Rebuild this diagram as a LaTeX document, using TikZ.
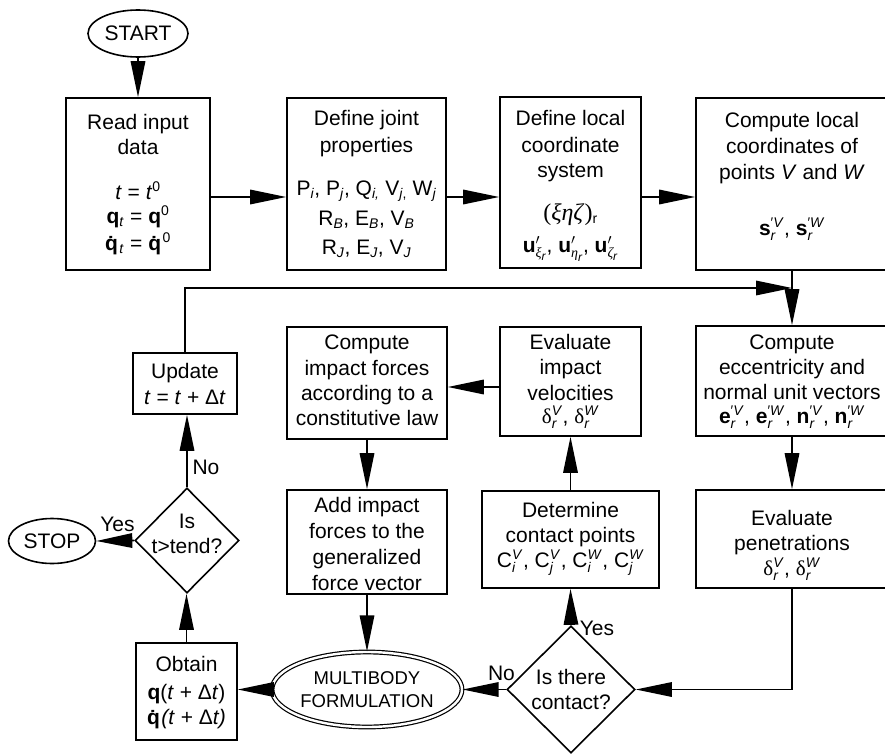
\documentclass[tikz,border=0pt]{standalone}
\usepackage{fontspec}
\setmainfont{Liberation Sans}
\newfontfamily\grk{Liberation Serif}
\usetikzlibrary{shapes.geometric,arrows.meta,calc}
\newcommand{\fs}{\fontsize{21}{25}\selectfont}
\newcommand{\fsm}{\fontsize{18.5}{23}\selectfont}
\newcommand{\scr}{\fontsize{14}{14}\selectfont}
\newcommand{\sbs}[1]{\ensuremath{_{\mbox{\scr #1}}}}
\newcommand{\sps}[1]{\ensuremath{^{\mbox{\scr #1}}}}
\newcommand{\supsub}[2]{\ensuremath{^{\mbox{\scr #1}}_{\mbox{\scr #2}}}}
\newcommand{\qd}{\textbf{q^^^^0307}}
\newcommand{\uv}[1]{\textbf{u}\ensuremath{^{\prime}_{\mbox{\scr\grk\itshape #1}_{\mbox{\fontsize{12}{12}\selectfont\itshape r}}}}}
\tikzset{
  box/.style={draw, line width=1.6pt, rectangle, inner sep=0pt},
  ell/.style={draw, line width=1.6pt, ellipse, inner sep=0pt, font=\fs},
  dia/.style={draw, line width=1.6pt, diamond, inner sep=0pt},
  tl/.style={inner sep=0pt, text height=15pt, text depth=0pt, font=\fs},
  arr/.style={line width=1.6pt, -{Triangle[length=36pt,width=14.5pt]}}
}
\begin{document}
\begin{tikzpicture}[x=1pt,y=-1pt]
\useasboundingbox (0,0) rectangle (885,754);
% shapes
\node[ell, minimum width=100pt, minimum height=47pt] (start) at (138,33.5) {START};
\node[ell, minimum width=87pt, minimum height=45pt] (stop) at (52,541) {STOP};
\node[ell, double, double distance=2.4pt, line width=1.2pt, minimum width=190pt, minimum height=75pt, align=center, font=\fsm] (multi) at (367,689.5) {MULTIBODY\\FORMULATION};
\node[box, minimum width=144pt, minimum height=172pt] (read) at (138,184) {};
\node[box, minimum width=159pt, minimum height=172pt] (joint) at (366.5,184) {};
\node[box, minimum width=141pt, minimum height=171pt] (local) at (570.5,182.5) {};
\node[box, minimum width=192pt, minimum height=172pt] (clocal) at (792,184) {};
\node[box, minimum width=192pt, minimum height=110pt] (ecc) at (792,381) {};
\node[box, minimum width=141pt, minimum height=109pt] (evalv) at (570.5,381.5) {};
\node[box, minimum width=160pt, minimum height=112pt] (cforce) at (367,383) {};
\node[box, minimum width=104pt, minimum height=61pt] (update) at (185,383.5) {};
\node[box, minimum width=160pt, minimum height=104pt] (addf) at (367,542) {};
\node[box, minimum width=177pt, minimum height=97pt] (determ) at (570.5,539.5) {};
\node[box, minimum width=192pt, minimum height=98pt] (pen) at (792,539) {};
\node[box, minimum width=101pt, minimum height=97pt] (obtain) at (186.5,691.5) {};
\node[dia, minimum width=104pt, minimum height=105pt] (tdiam) at (187,540.5) {};
\node[dia, minimum width=128pt, minimum height=127pt] (contact) at (571,689.5) {};
% texts
\node[tl] (r1) at (138,122) {Read input};
\node[tl] (r2) at (138,147) {data};
\node[tl] (r3) at (138,192) {\textit{t} = \textit{t}\sps{0}};
\node[tl] (r4) at (138,216) {\textbf{q}\sbs{\textit{t}} = \textbf{q}\sps{0}};
\node[tl] (r5) at (138,243) {\qd\sbs{\textit{t}} = \qd\sps{0}};
\node[tl] (j1) at (366.5,118) {Define joint};
\node[tl] (j2) at (366.5,145) {properties};
\node[tl] (j3) at (366.5,188) {P\sbs{\textit{i}}, P\sbs{\textit{j}}, Q\sbs{\textit{i,}} V\sbs{\textit{j},} W\sbs{\textit{j}}};
\node[tl] (j4) at (366.5,218) {R\sbs{\textit{B}}, E\sbs{\textit{B}}, V\sbs{\textit{B}}};
\node[tl] (j5) at (366.5,247) {R\sbs{\textit{J}}, E\sbs{\textit{J}}, V\sbs{\textit{J}}};
\node[tl] (l1) at (570.5,118) {Define local};
\node[tl] (l2) at (570.5,145) {coordinate};
\node[tl] (l3) at (570.5,170) {system};
\node[tl] (l4) at (570.5,213) {{\grk\fontsize{24}{25}\selectfont(\textit{ξηζ})}\sbs{r}};
\node[tl] (l5) at (570.5,245) {\uv{ξ}, \uv{η}, \uv{ζ}};
\node[tl] (c1) at (792,120) {Compute local};
\node[tl] (c2) at (792,146) {coordinates of};
\node[tl] (c3) at (792,172) {points \textit{V} and \textit{W}};
\node[tl] (c4) at (792,228) {\textbf{s}\supsub{′\textit{V}}{\textit{r}}, \textbf{s}\supsub{′\textit{W}}{\textit{r}}};
\node[tl] (e1) at (792,342) {Compute};
\node[tl] (e2) at (792,367) {eccentricity and};
\node[tl] (e3) at (792,392) {normal unit vectors};
\node[tl] (e4) at (792,416) {\textbf{e}\supsub{′\textit{V}}{\textit{r}}, \textbf{e}\supsub{′\textit{W}}{\textit{r}}, \textbf{n}\supsub{′\textit{V}}{\textit{r}}, \textbf{n}\supsub{′\textit{W}}{\textit{r}}};
\node[tl] (v1) at (570.5,342) {Evaluate};
\node[tl] (v2) at (570.5,367) {impact};
\node[tl] (v3) at (570.5,393) {velocities};
\node[tl] (v4) at (570.5,416) {{\grk δ}\supsub{\textit{V}}{\textit{r}}, {\grk δ}\supsub{\textit{W}}{\textit{r}}};
\node[tl] (f1) at (367,342) {Compute};
\node[tl] (f2) at (367,368) {impact forces};
\node[tl] (f3) at (367,393) {according to a};
\node[tl] (f4) at (367,418) {constitutive law};
\node[tl] (u1) at (185,371) {Update};
\node[tl] (u2) at (185,397) {\textit{t} = \textit{t} + Δ\textit{t}};
\node[tl] (a1) at (367,505) {Add impact};
\node[tl] (a2) at (367,531) {forces to the};
\node[tl] (a3) at (367,557) {generalized};
\node[tl] (a4) at (367,583) {force vector};
\node[tl] (d1) at (570.5,510) {Determine};
\node[tl] (d2) at (570.5,535) {contact points};
\node[tl] (d3) at (570.5,560) {C\supsub{\textit{V}}{\textit{i}}, C\supsub{\textit{V}}{\textit{j}}, C\supsub{\textit{W}}{\textit{i}}, C\supsub{\textit{W}}{\textit{j}}};
\node[tl] (p1) at (792,518) {Evaluate};
\node[tl] (p2) at (792,543) {penetrations};
\node[tl] (p3) at (792,568) {{\grk δ}\supsub{\textit{V}}{\textit{r}}, {\grk δ}\supsub{\textit{W}}{\textit{r}}};
\node[tl] (o1) at (186.5,664) {Obtain};
\node[tl] (o2) at (186.5,692) {\textbf{q}(\textit{t} + Δ\textit{t})};
\node[tl] (o3) at (186.5,717) {\qd\textit{(t} + Δ\textit{t)}};
\node[tl] (t1) at (187,521) {Is};
\node[tl] (t2) at (187,546) {t>tend?};
\node[tl] (k1) at (571,677) {Is there};
\node[tl] (k2) at (571,702) {contact?};
\node[tl] (lno1) at (206,467) {No};
\node[tl] (lyes1) at (117.5,524) {Yes};
\node[tl] (lyes2) at (597,628) {Yes};
\node[tl] (lno2) at (501.5,673) {No};
% connectors
\coordinate (rowA) at (0,197);
\coordinate (rowB) at (0,387);
\coordinate (join) at (792,288);
\draw[arr] (start.south) -- (read.north);
\draw[arr] (read.east |- rowA) -- (joint.west |- rowA);
\draw[arr] (joint.east |- rowA) -- (local.west |- rowA);
\draw[arr] (local.east |- rowA) -- (clocal.west |- rowA);
\draw[arr] (clocal.south) -- (ecc.north);
\draw[arr] (update.north) |- (join);
\draw[arr] (ecc.south) -- (pen.north);
\draw[arr] (pen.south) |- (contact.east);
\draw[arr] (contact.north) -- (determ.south);
\draw[arr] (determ.north) -- (evalv.south);
\draw[arr] (evalv.west |- rowB) -- (cforce.east |- rowB);
\draw[arr] (cforce.south) -- (addf.north);
\draw[arr] (addf.south) -- (multi.north);
\draw[arr] (multi.west) -- (obtain.east |- multi.west);
\draw[arr] (obtain.north) -- (obtain.north |- tdiam.south);
\draw[arr] (tdiam.west) -- (stop.east);
\draw[arr] (tdiam.north) -- (tdiam.north |- update.south);
\draw[arr] (contact.west) -- (multi.east);
\end{tikzpicture}
\end{document}
